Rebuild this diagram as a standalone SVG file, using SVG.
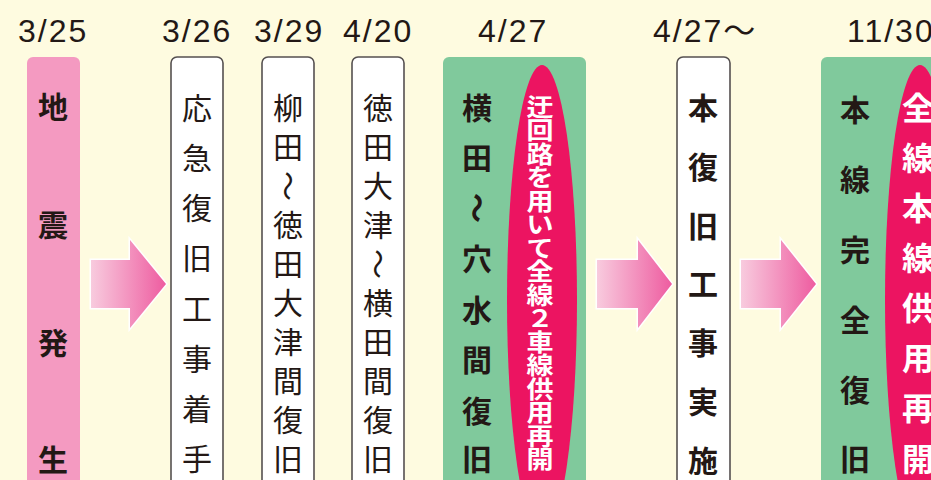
<svg xmlns="http://www.w3.org/2000/svg" width="931" height="480" viewBox="0 0 931 480">
<defs>
<linearGradient id="ag" x1="0" y1="0" x2="1" y2="0">
<stop offset="0" stop-color="#F8CBDE"/>
<stop offset="1" stop-color="#EE5CA0"/>
</linearGradient>
</defs>
<style>
.date{font-family:"Liberation Sans",Arial,"Noto Sans CJK JP",sans-serif;font-size:32px;letter-spacing:2px;fill:#231815}
.wbox{fill:#FFFFFF;stroke:#555050;stroke-width:1.6}
.pbox{fill:#F49AC1}
.gbox{fill:#80C99C}
.red{fill:#EC1461}
.jr{font-family:"Noto Sans CJK JP","Noto Sans CJK SC",sans-serif;font-size:30px;fill:#231815;text-anchor:middle}
.jb{font-family:"Noto Sans CJK JP","Noto Sans CJK SC",sans-serif;font-size:30px;font-weight:700;fill:#231815;text-anchor:middle}
.jw{font-family:"Noto Sans CJK JP","Noto Sans CJK SC",sans-serif;font-weight:700;fill:#FFFFFF;text-anchor:middle}
.arrow{fill:url(#ag);stroke:#FFFFFF;stroke-width:3;paint-order:stroke}
</style>
<rect width="931" height="480" fill="#FEFBE0"/>

<g id="dates">
<text class="date" x="18" y="42">3/25</text>
<text class="date" x="162" y="42">3/26</text>
<text class="date" x="254" y="42">3/29</text>
<text class="date" x="343" y="42">4/20</text>
<text class="date" x="478" y="42">4/27</text>
<text class="date" x="653" y="42">4/27〜</text>
<text class="date" x="847" y="42">11/30</text>
</g>

<g id="connectors">
<path class="arrow" d="M91,260 H130 V240 L166,284 L130,328 V308 H91 Z"/>
<path class="arrow" d="M597,260 H638 V240 L672,284 L638,328 V308 H597 Z"/>
<path class="arrow" d="M741,260 H781 V240 L816,284 L781,328 V308 H741 Z"/>
</g>

<g id="n-0325">
<rect class="pbox" x="27" y="57" width="53" height="440" rx="6"/>
<text class="jb" x="53 53 53 53" y="118 236 354 471">地震発生</text>
</g>

<g id="n-0326">
<rect class="wbox" x="171" y="57" width="52" height="440" rx="6"/>
<text class="jr" x="197 197 197 197 197 197 197 197" y="119 169 219 269 320 370 420 470">応急復旧工事着手</text>
</g>

<g id="n-0329">
<rect class="wbox" x="262" y="57" width="52" height="440" rx="6"/>
<text class="jr" x="288 288" y="119 158">柳田</text>
<text class="jr" x="0" y="11" transform="translate(288,186) rotate(90)">〜</text>
<text class="jr" x="288 288 288 288 288 288 288" y="236 275 314 353 392 431 470">徳田大津間復旧</text>
</g>

<g id="n-0420">
<rect class="wbox" x="352" y="57" width="52" height="440" rx="6"/>
<text class="jr" x="378 378 378 378" y="119 158 197 236">徳田大津</text>
<text class="jr" x="0" y="11" transform="translate(378,264) rotate(90)">〜</text>
<text class="jr" x="378 378 378 378 378" y="314 353 392 431 470">横田間復旧</text>
</g>

<g id="n-0427">
<rect class="gbox" x="443" y="57" width="143" height="440" rx="6"/>
<text class="jb" x="477 477" y="119 169">横田</text>
<text class="jb" x="0" y="11" transform="translate(477,208) rotate(90)">〜</text>
<text class="jb" x="477 477 477 477 477" y="270 321 371 422 470">穴水間復旧</text>
<ellipse class="red" cx="542" cy="300" rx="35" ry="235"/>
<text class="jw" style="font-size:27px" transform="scale(1,0.87)" x="540 540 540 540 540 540 540 540 540 540 540 540 540 540 540 540" y="132.8 159.8 186.9 213.9 240.9 268 295.1 322.1 349.1 376.2 403.2 430.2 457.4 484.4 511.4 538.5">迂回路を用いて全線２車線供用再開</text>
</g>

<g id="n-0427b">
<rect class="wbox" x="677" y="57" width="53" height="440" rx="6"/>
<text class="jb" x="703 703 703 703 703 703 703" y="119 178 237 295 354 413 472">本復旧工事実施</text>
</g>

<g id="n-1130">
<rect class="gbox" x="821" y="57" width="130" height="440" rx="6"/>
<text class="jb" x="855 855 855 855 855 855" y="121 191 261 331 401 470">本線完全復旧</text>
<ellipse class="red" cx="920" cy="300" rx="35" ry="235"/>
<text class="jw" style="font-size:32px" x="918 918 918 918 918 918 918 918" y="120 170 220 270 320 370 420 471">全線本線供用再開</text>
</g>
</svg>
